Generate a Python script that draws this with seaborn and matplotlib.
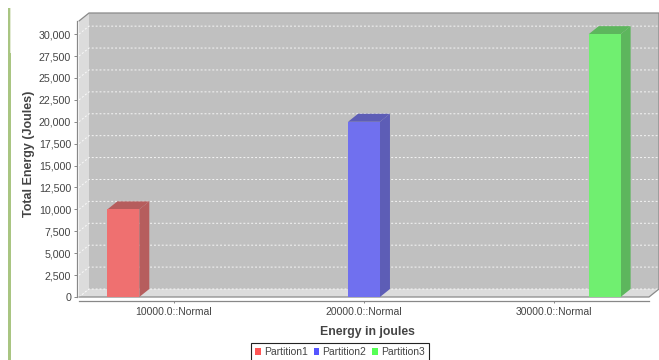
import matplotlib
matplotlib.use("Agg")
import matplotlib.pyplot as plt
import numpy as np
import pandas as pd
import seaborn as sns
from matplotlib.patches import Polygon, Patch, Rectangle
from matplotlib.lines import Line2D
from matplotlib.ticker import FuncFormatter, MultipleLocator

# ---- data -------------------------------------------------------------
categories = ["10000.0::Normal", "20000.0::Normal", "30000.0::Normal"]
series = ["Partition1", "Partition2", "Partition3"]
energy = [10000, 20000, 30000]          # one value per partition
series_category = categories            # partition i sits in category i
y_max = 31500
y_step = 2500

# ---- style ------------------------------------------------------------
base_colors = ["#ff5555", "#5555ff", "#55ff55"]
wall_back = "#c0c0c0"
wall_side = "#dcdcdc"
text_col = "#444444"
axis_col = "#888888"
fg_alpha = 0.75


def hex_rgb(h):
    h = h.lstrip("#")
    return np.array([int(h[i:i + 2], 16) for i in (0, 2, 4)]) / 255.0


bg = hex_rgb(wall_back)
front_cols = [tuple(fg_alpha * hex_rgb(c) + (1 - fg_alpha) * bg) for c in base_colors]
dark_cols = [tuple(fg_alpha * 0.7 * hex_rgb(c) + (1 - fg_alpha) * bg) for c in base_colors]

sns.set_style("white")
plt.rcParams["font.family"] = ["Liberation Sans", "DejaVu Sans"]

W, H = 659, 360
fig = plt.figure(figsize=(W / 100, H / 100), dpi=100)
# front face of the 3D plot box
ax = fig.add_axes([79 / W, (H - 297) / H, 570 / W, 276 / H])
ax.patch.set_visible(False)

df = pd.DataFrame({"Category": series_category, "Series": series, "Energy": energy})
sns.barplot(data=df, x="Category", y="Energy", hue="Series",
            order=categories, hue_order=series,
            palette=dict(zip(series, front_cols)), saturation=1,
            width=0.8, dodge=True, gap=0.37, errorbar=None, linewidth=0,
            legend=False, ax=ax, zorder=3)

x0, x1 = -0.5, len(categories) - 0.5
ax.set_xlim(x0, x1)
ax.set_ylim(0, y_max)

# depth offset of the 3D effect, in data units
DX_PX, DY_PX = 10, 8
dx = DX_PX / 570 * (x1 - x0)
dy = DY_PX / 276 * y_max

# walls and floor
ax.add_patch(Rectangle((x0 + dx, dy), x1 - x0, y_max, facecolor=wall_back,
                       edgecolor="none", clip_on=False, zorder=0.1))
ax.add_patch(Polygon([(x0, 0), (x0, y_max), (x0 + dx, y_max + dy), (x0 + dx, dy)],
                     closed=True, facecolor=wall_side, edgecolor="none",
                     clip_on=False, zorder=0.2))
ax.add_patch(Polygon([(x0, 0), (x1, 0), (x1 + dx, dy), (x0 + dx, dy)],
                     closed=True, facecolor=wall_side, edgecolor="none",
                     clip_on=False, zorder=0.2))

# dashed gridlines running along the left wall and the back wall
for v in np.arange(0, y_max + 1, y_step):
    ax.add_line(Line2D([x0, x0 + dx, x1 + dx], [v, v + dy, v + dy],
                       color="white", lw=0.7, dashes=(2, 2), alpha=0.85,
                       clip_on=False, zorder=0.5))

# outline of the box
ax.add_line(Line2D([x0, x0 + dx, x1 + dx, x1 + dx, x1, x0],
                   [y_max, y_max + dy, y_max + dy, dy, 0, 0],
                   color="#8a8a8a", lw=0.9, clip_on=False, zorder=0.6))

# side and top faces of each bar
for cont, dcol in zip(ax.containers, dark_cols):
    for bar in cont.patches:
        bx, bw, bh = bar.get_x(), bar.get_width(), bar.get_height()
        if not np.isfinite(bh) or bh <= 0:
            continue
        side = [(bx + bw, 0), (bx + bw, bh), (bx + bw + dx, bh + dy), (bx + bw + dx, dy)]
        top = [(bx, bh), (bx + bw, bh), (bx + bw + dx, bh + dy), (bx + dx, bh + dy)]
        for pts in (side, top):
            ax.add_patch(Polygon(pts, closed=True, facecolor=dcol, edgecolor="none",
                                 clip_on=False, zorder=2.9))

# axes
for s in ("top", "right"):
    ax.spines[s].set_visible(False)
ax.spines["left"].set_position(("outward", 1.5))
ax.spines["bottom"].set_position(("outward", 2.7))
for s in ("left", "bottom"):
    ax.spines[s].set_color(axis_col)
    ax.spines[s].set_linewidth(0.9)

ax.yaxis.set_major_locator(MultipleLocator(y_step))
ax.yaxis.set_major_formatter(FuncFormatter(lambda v, p: f"{v:,.0f}"))
ax.tick_params(axis="y", left=True, length=2.2, width=0.7, color=axis_col,
               pad=2, labelsize=7.7, labelcolor=text_col)
ax.tick_params(axis="x", bottom=True, length=1.5, width=0.7, color=axis_col,
               pad=3, labelsize=7.5, labelcolor=text_col)

ax.set_xlabel("Energy in joules", fontsize=8.8, fontweight="bold", color=text_col)
ax.set_ylabel("Total Energy (Joules)", fontsize=9, fontweight="bold", color=text_col)
ax.xaxis.set_label_coords((367 - 79) / 570, (297 - 332) / 276)
ax.xaxis.label.set_verticalalignment("center")
ax.yaxis.set_label_coords((29 - 79) / 570, (297 - 153.5) / 276)
ax.yaxis.label.set_verticalalignment("center")

# legend below the chart
handles = [Patch(facecolor=c, edgecolor="none") for c in base_colors]
leg = fig.legend(handles, series, loc="upper left",
                 bbox_to_anchor=(251 / W, 1 - 343 / H), ncol=3,
                 fontsize=7.5, frameon=True, fancybox=False, framealpha=1,
                 edgecolor="#222222", borderpad=0.4, borderaxespad=0,
                 handlelength=0.55, handleheight=0.55, handletextpad=0.3,
                 columnspacing=0.55, labelcolor=text_col)
leg.get_frame().set_linewidth(0.8)

# green page rule at the left edge
fig.patches.append(Rectangle((8 / W, 0), 3 / W, (H - 8) / H, transform=fig.transFigure,
                             facecolor="#a9c582", edgecolor="none"))
fig.patches.append(Rectangle((10 / W, 1 - 53 / H), 1 / W, 45 / H, transform=fig.transFigure,
                             facecolor="#e2ead3", edgecolor="none"))

fig.savefig("out.png", dpi=100)
